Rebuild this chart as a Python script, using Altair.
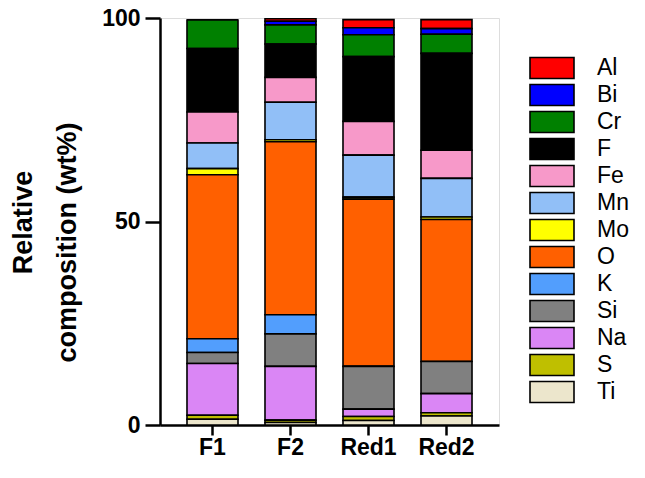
import altair as alt
import pandas as pd

samples = ["F1", "F2", "Red1", "Red2"]
elements = ["Al", "Bi", "Cr", "F", "Fe", "Mn", "Mo", "O", "K", "Si", "Na", "S", "Ti"]
colors = ["#FF0000", "#0000FF", "#008000", "#000000", "#F799C9", "#91BFF7",
          "#FFFF00", "#FF6000", "#529EFD", "#808080", "#DA86F5", "#BFBF00", "#ECE6CC"]

# wt% per element, in the order of `elements`
F1 = [0.0, 0.0, 7.0, 15.6, 7.6, 6.3, 1.5, 40.3, 3.4, 2.7, 12.7, 1.0, 1.4]
F2 = [0.6, 0.9, 4.7, 8.2, 6.1, 9.2, 0.5, 42.5, 4.7, 8.0, 13.2, 0.6, 0.6]
Red1 = [2.0, 1.7, 5.4, 15.9, 8.3, 10.3, 0.5, 41.1, 0.0, 10.5, 1.8, 1.0, 1.1]
Red2 = [2.2, 1.4, 4.7, 23.8, 6.9, 9.5, 0.6, 34.9, 0.0, 7.9, 4.7, 0.8, 2.2]

rows = []
for s, vals in zip(samples, [F1, F2, Red1, Red2]):
    for i, (e, v) in enumerate(zip(elements, vals)):
        rows.append({"sample": s, "element": e, "value": v, "ord": len(elements) - i})
df = pd.DataFrame(rows)

FONT = "Liberation Sans"
BLANK = "\u2800"

chart = alt.Chart(df).mark_bar(stroke="black", strokeWidth=1.6, opacity=1).encode(
    x=alt.X("sample:N", sort=samples,
            scale=alt.Scale(paddingInner=0.346, paddingOuter=0.346),
            axis=alt.Axis(title=None, labelAngle=0, labelFont=FONT, labelFontSize=23,
                          labelFontWeight="bold", labelColor="black", domainColor="black",
                          domainWidth=2.5, tickColor="black", tickWidth=2.5, tickSize=10,
                          labelPadding=1)),
    y=alt.Y("value:Q", stack="zero",
            scale=alt.Scale(domain=[0, 100], nice=False),
            axis=alt.Axis(values=[0, 50, 100],
                          title=[BLANK * 2 + "Relative", "composition (wt%)"],
                          titleFont=FONT, titleFontSize=27, titleFontWeight="bold",
                          titleColor="black", titleAngle=-90, titleAlign="center",
                          titleBaseline="top", titleX=-150, titleY=224, titleLineHeight=44,
                          labelFont=FONT, labelFontSize=23, labelFontWeight="bold",
                          labelColor="black", labelPadding=5,
                          domainColor="black", domainWidth=2.5, tickColor="black",
                          tickWidth=2.5, tickSize=15, grid=False)),
    color=alt.Color("element:N", sort=elements,
                    scale=alt.Scale(domain=elements, range=colors),
                    legend=alt.Legend(title=None, orient="none", legendX=380, legendY=38,
                                      symbolType="M-2,-0.95L2,-0.95L2,0.95L-2,0.95Z",
                                      symbolSize=484, symbolStrokeColor="black",
                                      symbolStrokeWidth=1.6, symbolOpacity=1,
                                      labelFont=FONT, labelFontSize=23, labelColor="black",
                                      labelOffset=33, rowPadding=-1, padding=0,
                                      labelLimit=300)),
    order=alt.Order("ord:Q", sort="ascending"),
).properties(
    width=339, height=407,
    autosize=alt.AutoSizeParams(type="none"),
    padding={"left": 152, "top": 10, "right": 138, "bottom": 45},
).configure_view(stroke=None).configure(background="white")

chart.save("out.html", embed_options={"renderer": "svg", "actions": False})
